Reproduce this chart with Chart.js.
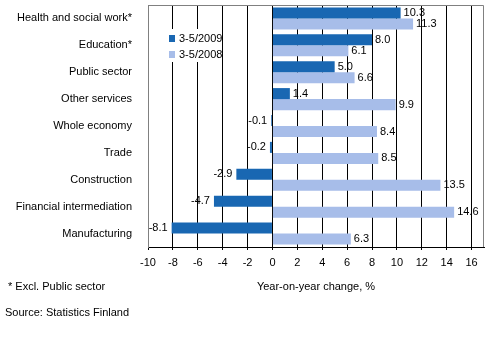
<!DOCTYPE html>
<html>
<head>
<meta charset="utf-8">
<script src="https://cdn.jsdelivr.net/npm/chart.js@4.4.0/dist/chart.umd.min.js"></script>
<style>
    body { margin: 0; background: #fff; }
    .wrap { position: relative; width: 499px; height: 344px; font-family: 'Liberation Sans', Arial, sans-serif; font-size: 11px; color: #000; }
    canvas { display: block; }
    .legend { position: absolute; left: 165px; top: 29px; width: 56px; height: 33px; background: #fff; }
    .legend div { position: absolute; left: 4px; white-space: nowrap; line-height: 13px; }
    .legend span { display: inline-block; width: 6px; height: 7px; margin-right: 4px; vertical-align: 0px; }
    .note { position: absolute; white-space: nowrap; line-height: 13px; }
</style>
</head>
<body>
<div class="wrap">
    <canvas id="chart" width="499" height="344"></canvas>
    <div class="legend">
        <div style="top:3px"><span style="background:#1967b2"></span>3-5/2009</div>
        <div style="top:19px"><span style="background:#a7bde9"></span>3-5/2008</div>
    </div>
    <div class="note" style="left:8px; top:280px">* Excl. Public sector</div>
    <div class="note" style="left:5px; top:306px">Source: Statistics Finland</div>
</div>
<script>
const categories = ['Health and social work*', 'Education*', 'Public sector', 'Other services', 'Whole economy', 'Trade', 'Construction', 'Financial intermediation', 'Manufacturing'];
const seriesNames = ['3-5/2009', '3-5/2008'];
const values2009 = [10.3, 8.0, 5.0, 1.4, -0.1, -0.2, -2.9, -4.7, -8.1];
const values2008 = [11.3, 6.1, 6.6, 9.9, 8.4, 8.5, 13.5, 14.6, 6.3];
const xTicks = [-10, -8, -6, -4, -2, 0, 2, 4, 6, 8, 10, 12, 14, 16];

const FONT = "'Liberation Sans', Arial, sans-serif";

// gray frame round the plot area
const plotFrame = {
    id: 'plotFrame',
    beforeDatasetsDraw(chart) {
        const { ctx, chartArea: a } = chart;
        ctx.save();
        ctx.strokeStyle = '#808080';
        ctx.lineWidth = 1;
        ctx.beginPath();
        ctx.moveTo(a.left + 0.5, a.bottom);
        ctx.lineTo(a.left + 0.5, a.top + 0.5);
        ctx.lineTo(a.right - 0.5, a.top + 0.5);
        ctx.lineTo(a.right - 0.5, a.bottom);
        ctx.stroke();
        ctx.restore();
    }
};

// value labels at the outside end of each bar
const barLabels = {
    id: 'barLabels',
    afterDatasetsDraw(chart) {
        const { ctx } = chart;
        ctx.save();
        ctx.font = '11px ' + FONT;
        ctx.fillStyle = '#000';
        ctx.textBaseline = 'middle';
        chart.data.datasets.forEach((ds, i) => {
            chart.getDatasetMeta(i).data.forEach((bar, j) => {
                const v = ds.data[j];
                if (v >= 0) {
                    ctx.textAlign = 'left';
                    ctx.fillText(v.toFixed(1), bar.x + 3, bar.y);
                } else {
                    ctx.textAlign = 'right';
                    ctx.fillText(v.toFixed(1), bar.x - 4, bar.y);
                }
            });
        });
        ctx.restore();
    }
};

new Chart(document.getElementById('chart'), {
    type: 'bar',
    data: {
        labels: categories,
        datasets: [
            { label: seriesNames[0], data: values2009, backgroundColor: '#1967b2' },
            { label: seriesNames[1], data: values2008, backgroundColor: '#a7bde9' }
        ]
    },
    options: {
        indexAxis: 'y',
        responsive: false,
        animation: false,
        layout: { padding: { top: 5, right: 15, bottom: 0, left: 0 } },
        datasets: { bar: { categoryPercentage: 0.82, barPercentage: 1 } },
        plugins: { legend: { display: false }, tooltip: { enabled: false } },
        scales: {
            x: {
                min: -10,
                max: 17,
                afterFit: (axis) => { axis.height = 97; axis.paddingLeft = 0; axis.paddingRight = 0; },
                afterBuildTicks: (axis) => { axis.ticks = xTicks.map(v => ({ value: v })); },
                ticks: { font: { family: FONT, size: 11 }, color: '#000', padding: 6, maxRotation: 0 },
                grid: {
                    color: (c) => c.tick && c.tick.value === -10 ? 'rgba(0,0,0,0)' : '#000',
                    tickColor: '#000',
                    tickLength: 3
                },
                border: { color: '#000' },
                title: {
                    display: true,
                    text: 'Year-on-year change, %',
                    font: { family: FONT, size: 11 },
                    color: '#000',
                    padding: { top: 0, bottom: 50 }
                }
            },
            y: {
                afterFit: (axis) => { axis.width = 148; axis.paddingTop = 0; axis.paddingBottom = 0; },
                ticks: { font: { family: FONT, size: 11 }, color: '#000', padding: 8 },
                grid: { display: false },
                border: { color: '#808080' }
            }
        }
    },
    plugins: [plotFrame, barLabels]
});
</script>
</body>
</html>
